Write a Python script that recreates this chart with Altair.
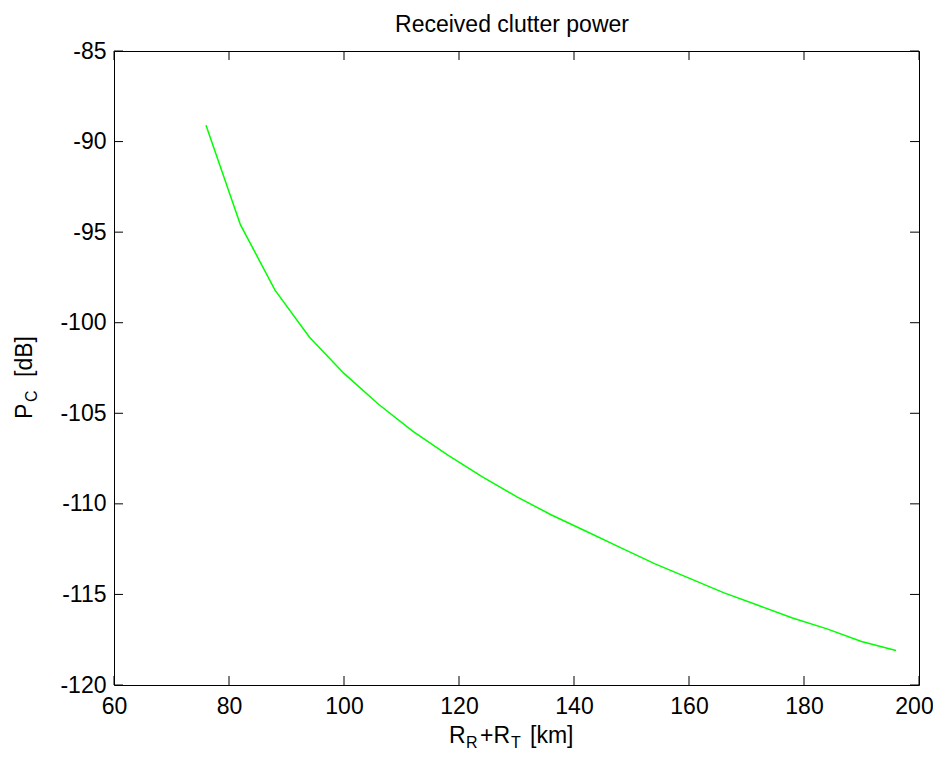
import altair as alt
import pandas as pd

# ---- data ----
range_km = [76, 82, 88, 94, 100, 106, 112, 118, 124, 130, 136,
            142, 148, 154, 160, 166, 172, 178, 184, 190, 196]
power_db = [-89.1, -94.6, -98.2, -100.8, -102.8, -104.5, -106.0, -107.3,
            -108.5, -109.6, -110.6, -111.5, -112.4, -113.3, -114.1, -114.9,
            -115.6, -116.3, -116.9, -117.6, -118.1]
x_ticks = [60, 80, 100, 120, 140, 160, 180, 200]
y_ticks = [-120, -115, -110, -105, -100, -95, -90, -85]

title_text = "Received clutter power"
xlab_parts = ["R", "R", "+R", "T", "[km]"]
ylab_parts = ["P", "C", "[dB]"]

W, H = 805, 634
FONT = "Liberation Sans"
FS = 23
SUB = 16
TICK = 9

xs = alt.Scale(domain=[60, 200], nice=False, zero=False)
ys = alt.Scale(domain=[-120, -85], nice=False, zero=False)

curve = pd.DataFrame({"r": range_km, "p": power_db})
line = alt.Chart(curve).mark_line(color="#00ff00", strokeWidth=1.5).encode(
    x=alt.X("r:Q", scale=xs, axis=alt.Axis(
        values=x_ticks, title=None, ticks=False, domain=False, grid=False,
        labelFont=FONT, labelFontSize=FS, labelColor="black", labelPadding=10,
        labelFlush=False, labelOverlap=False, labelExpr="toString(datum.value)",
        labelOffset={"condition": {"test": "datum.value == 200", "value": -5},
                     "value": 0})),
    y=alt.Y("p:Q", scale=ys, axis=alt.Axis(
        values=y_ticks, title=None, ticks=False, domain=False, grid=False,
        labelFont=FONT, labelFontSize=FS, labelColor="black", labelPadding=8,
        labelFlush=False, labelOverlap=False, labelExpr="toString(datum.value)")),
)

xt = pd.DataFrame({"v": x_ticks})
yt = pd.DataFrame({"v": y_ticks})
tick_style = dict(color="black", strokeWidth=1)
xb = alt.Chart(xt).mark_rule(**tick_style).encode(
    x=alt.X("v:Q", scale=xs), y=alt.value(H), y2=alt.value(H - TICK))
xtop = alt.Chart(xt).mark_rule(**tick_style).encode(
    x=alt.X("v:Q", scale=xs), y=alt.value(0), y2=alt.value(TICK))
yl = alt.Chart(yt).mark_rule(**tick_style).encode(
    y=alt.Y("v:Q", scale=ys), x=alt.value(0), x2=alt.value(TICK))
yr = alt.Chart(yt).mark_rule(**tick_style).encode(
    y=alt.Y("v:Q", scale=ys), x=alt.value(W), x2=alt.value(W - TICK))


def label(text, x, y, size, angle=0, align="left"):
    return alt.Chart(pd.DataFrame({"t": [text]})).mark_text(
        font=FONT, fontSize=size, color="black", align=align,
        baseline="alphabetic", angle=angle,
    ).encode(text="t:N", x=alt.value(x), y=alt.value(y))


texts = [
    label(title_text, 398, -19, FS, align="center"),
    label(xlab_parts[0], 335, 692, FS),
    label(xlab_parts[1], 352, 697, SUB),
    label(xlab_parts[2], 366, 692, FS),
    label(xlab_parts[3], 397, 697, SUB),
    label(xlab_parts[4], 416, 692, FS),
    label(ylab_parts[0], -82, 368, FS, angle=270),
    label(ylab_parts[1], -77, 351, SUB, angle=270),
    label(ylab_parts[2], -82, 326, FS, angle=270),
]

chart = alt.layer(line, xb, xtop, yl, yr, *texts).properties(
    width=W, height=H,
    autosize=alt.AutoSizeParams(type="none"),
    padding={"left": 106, "top": 43, "right": 14, "bottom": 65},
    background="white",
).configure_view(stroke="black", strokeWidth=1)

chart.save("out.html", embed_options={"renderer": "svg", "actions": False})
